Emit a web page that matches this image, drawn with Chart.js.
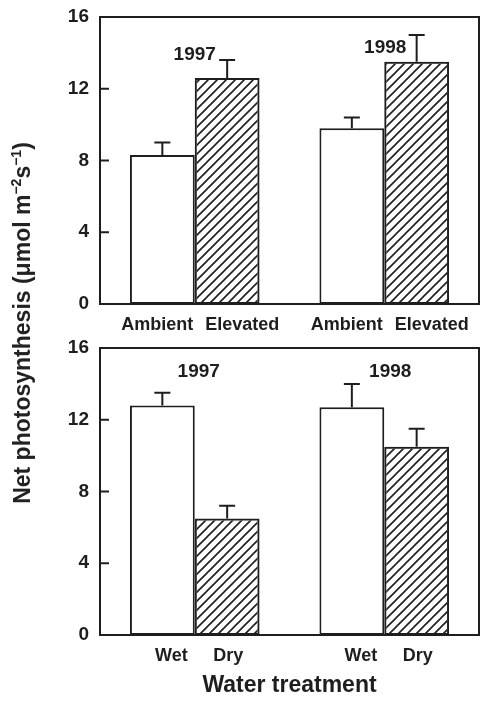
<!DOCTYPE html>
<html>
<head>
<meta charset="utf-8">
<script src="https://cdn.jsdelivr.net/npm/chart.js@4"></script>
<style>
  body { margin: 0; background: #fff; }
  #wrap { position: relative; width: 480px; height: 701px; overflow: hidden; font-family: "Liberation Sans", Arial, sans-serif; color: #222; }
  canvas { position: absolute; left: 0; }
  #yTitle {
    position: absolute; left: -198px; top: 310px; width: 440px; height: 26px;
    line-height: 26px; text-align: center; white-space: nowrap;
    font-weight: bold; font-size: 23px; transform: rotate(-90deg);
  }
  #yTitle sup { font-size: 14px; vertical-align: 9px; line-height: 0; }
</style>
</head>
<body>
<div id="wrap">
  <canvas id="co2Chart" style="top:0px"></canvas>
  <canvas id="waterChart" style="top:330px"></canvas>
  <div id="yTitle">Net photosynthesis (&mu;mol m<sup>&minus;2</sup>s<sup>&minus;1</sup>)</div>
</div>
<script>
// datos
const years = ['1997', '1998'];
const yTicks = [0, 4, 8, 12, 16];

const co2Labels = ['Ambient', 'Elevated'];
const co2Ambient = [8.3, 9.8];
const co2Elevated = [12.6, 13.5];
const co2AmbientErr = [0.7, 0.6];
const co2ElevatedErr = [1.0, 1.5];

const waterLabels = ['Wet', 'Dry'];
const waterWet = [12.8, 12.7];
const waterDry = [6.5, 10.5];
const waterWetErr = [0.7, 1.3];
const waterDryErr = [0.7, 1.0];

const ink = '#1e1e1e';
const fontFam = '"Liberation Sans", Arial, sans-serif';

function HacerRayado(ctx) {
    let c = document.createElement('canvas');
    c.width = 9; c.height = 9;
    let g = c.getContext('2d');
    g.strokeStyle = ink;
    g.lineWidth = 1.6;
    g.beginPath();
    g.moveTo(0, 9); g.lineTo(9, 0);
    g.moveTo(-1, 1); g.lineTo(1, -1);
    g.moveTo(8, 10); g.lineTo(10, 8);
    g.stroke();
    return ctx.createPattern(c, 'repeat');
}

// dibuja caja, marcas, barras de error y etiquetas
const decorPlugin = {
    id: 'decor',
    afterDatasetsDraw(chart, args, opts) {
        const ctx = chart.ctx;
        const area = chart.chartArea;
        const y = chart.scales.y;
        ctx.save();
        ctx.strokeStyle = ink;
        ctx.lineWidth = 2;

        // barras de error
        chart.data.datasets.forEach((ds, i) => {
            const meta = chart.getDatasetMeta(i);
            meta.data.forEach((bar, j) => {
                const top = y.getPixelForValue(ds.data[j]);
                const tip = y.getPixelForValue(ds.data[j] + ds.errors[j]);
                ctx.beginPath();
                ctx.moveTo(bar.x, top);
                ctx.lineTo(bar.x, tip);
                ctx.moveTo(bar.x - 8, tip);
                ctx.lineTo(bar.x + 8, tip);
                ctx.stroke();
            });
        });

        // caja
        ctx.strokeRect(area.left, area.top, area.right - area.left, area.bottom - area.top);

        // marcas hacia adentro
        yTicks.forEach(t => {
            const py = y.getPixelForValue(t);
            ctx.beginPath();
            ctx.moveTo(area.left, py);
            ctx.lineTo(area.left + 9, py);
            ctx.stroke();
        });

        ctx.fillStyle = ink;
        ctx.textAlign = 'center';
        ctx.textBaseline = 'middle';

        // etiquetas bajo cada barra
        ctx.font = 'bold 18px ' + fontFam;
        chart.data.datasets.forEach((ds, i) => {
            const meta = chart.getDatasetMeta(i);
            meta.data.forEach(bar => {
                ctx.fillText(ds.label, bar.x + opts.labelDx[i], area.bottom + 21);
            });
        });

        // años
        ctx.font = 'bold 19px ' + fontFam;
        chart.data.labels.forEach((yr, j) => {
            const px = chart.scales.x.getPixelForValue(j);
            ctx.fillText(yr, px + opts.yearDx[j], y.getPixelForValue(opts.yearAt[j]));
        });
        ctx.restore();
    }
};

function CrearPanel(id, h, padTop, xHeight, names, serieA, serieB, errA, errB, decor, xTitle) {
    const canvas = document.getElementById(id);
    canvas.width = 480;
    canvas.height = h;
    canvas.style.width = '480px';
    canvas.style.height = h + 'px';
    const ctx = canvas.getContext('2d');

    return new Chart(ctx, {
        type: 'bar',
        data: {
            labels: years,
            datasets: [{
                label: names[0],
                data: serieA,
                errors: errA,
                backgroundColor: '#ffffff',
                borderColor: ink,
                borderWidth: 2,
                borderSkipped: false
            }, {
                label: names[1],
                data: serieB,
                errors: errB,
                backgroundColor: HacerRayado(ctx),
                borderColor: ink,
                borderWidth: 2,
                borderSkipped: false
            }]
        },
        options: {
            responsive: false,
            animation: false,
            devicePixelRatio: 1,
            layout: { padding: { left: 0, right: 1, top: padTop, bottom: 0 } },
            plugins: {
                legend: { display: false },
                tooltip: { enabled: false },
                decor: decor
            },
            datasets: { bar: { categoryPercentage: 0.684, barPercentage: 1.0 } },
            scales: {
                x: {
                    grid: { display: false, drawTicks: false },
                    border: { display: false },
                    ticks: { display: false },
                    title: {
                        display: !!xTitle,
                        text: xTitle || '',
                        color: ink,
                        font: { family: fontFam, size: 23, weight: 'bold' },
                        padding: { top: 0, bottom: 2 }
                    },
                    afterFit: s => { s.height = xHeight; }
                },
                y: {
                    min: 0,
                    max: 16,
                    grid: { display: false, drawTicks: false },
                    border: { display: false },
                    ticks: {
                        stepSize: 4,
                        padding: 11,
                        color: ink,
                        font: { family: fontFam, size: 19, weight: 'bold' }
                    },
                    afterFit: s => { s.width = 100; s.paddingTop = 0; s.paddingBottom = 0; }
                }
            }
        },
        plugins: [decorPlugin]
    });
}

CrearPanel('co2Chart', 340, 17, 36, co2Labels, co2Ambient, co2Elevated, co2AmbientErr, co2ElevatedErr,
    { labelDx: [-5, 15], yearDx: [0, 1], yearAt: [13.9, 14.3] });

CrearPanel('waterChart', 371, 18, 66, waterLabels, waterWet, waterDry, waterWetErr, waterDryErr,
    { labelDx: [9, 1], yearDx: [4, 6], yearAt: [14.7, 14.65] }, 'Water treatment');
</script>
</body>
</html>
